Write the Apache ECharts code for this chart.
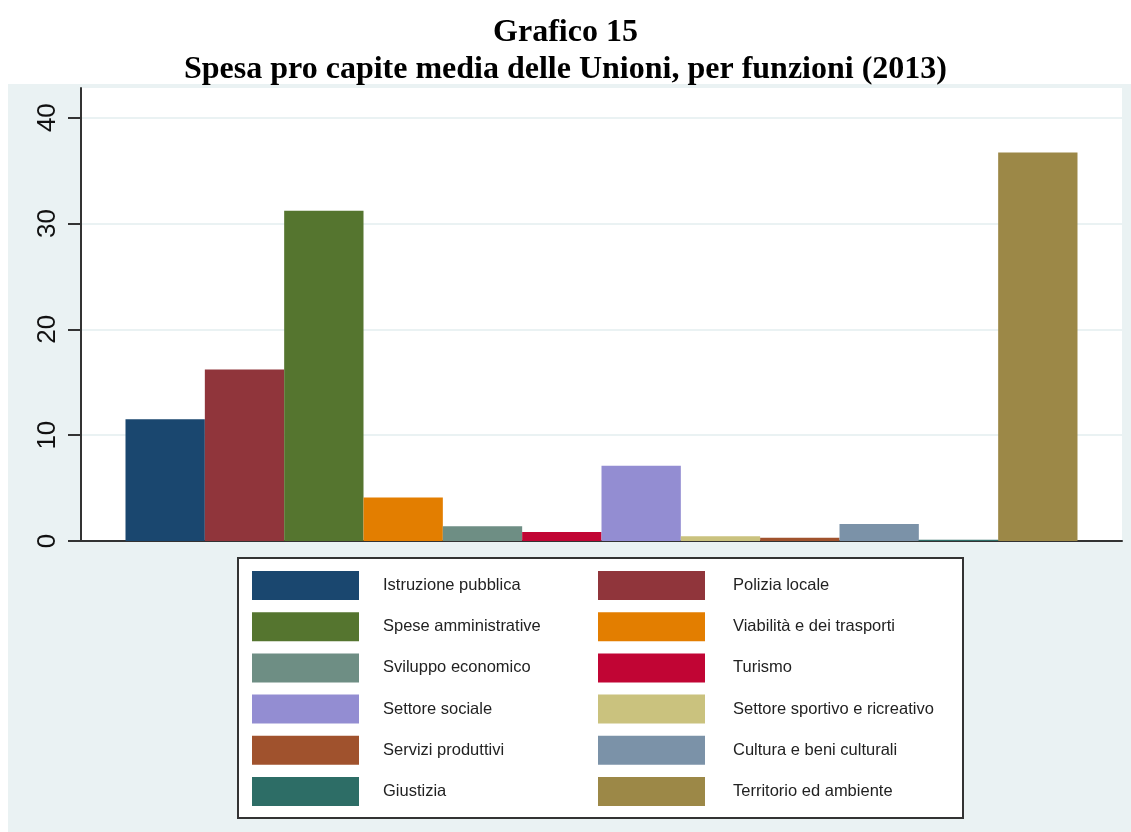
<!DOCTYPE html>
<html>
<head>
<meta charset="utf-8">
<script src="https://cdn.jsdelivr.net/npm/echarts@6/dist/echarts.min.js"></script>
<style>
html, body { margin: 0; padding: 0; background: #fff; }
#grafico15 { width: 1131px; height: 832px; }
</style>
</head>
<body>
<div id="grafico15"></div>
<script>
// funzioni di spesa (una barra ciascuna)
const funzioni = [
	'Istruzione pubblica',
	'Polizia locale',
	'Spese amministrative',
	'Viabilità e dei trasporti',
	'Sviluppo economico',
	'Turismo',
	'Settore sociale',
	'Settore sportivo e ricreativo',
	'Servizi produttivi',
	'Cultura e beni culturali',
	'Giustizia',
	'Territorio ed ambiente',
]
// spesa pro capite media (euro)
const spesa = [11.5, 16.2, 31.2, 4.1, 1.4, 0.85, 7.1, 0.45, 0.3, 1.6, 0.12, 36.7]
const yTicks = [0, 10, 20, 30, 40]

// palette s2color
const colori = [
	'#1a476f', '#90353b', '#55752f', '#e37e00', '#6e8e84', '#c10534',
	'#938dd2', '#cac27e', '#a0522d', '#7b92a8', '#2d6d66', '#9c8847',
]

const sfondo = '#eaf2f3'
const sans = "'Liberation Sans', Arial, sans-serif"

// legenda su due colonne
const legenda = (left, items, gap) => ({
	data: items,
	orient: 'vertical',
	left: left,
	top: 571,
	padding: 0,
	itemWidth: 107,
	itemHeight: 29,
	itemGap: 12.2,
	icon: 'rect',
	selectedMode: false,
	textStyle: {
		fontFamily: sans,
		fontSize: 16.5,
		color: '#222',
		padding: [0, 0, 0, gap],
	},
})

const chart = echarts.init(document.getElementById('grafico15'))

chart.setOption({
	animation: false,
	color: colori,
	title: {
		text: 'Grafico 15\nSpesa pro capite media delle Unioni, per funzioni (2013)',
		left: 'center',
		top: 9,
		textStyle: {
			fontFamily: "'Liberation Serif', 'Times New Roman', serif",
			fontWeight: 'bold',
			fontSize: 32,
			lineHeight: 37,
			color: '#000',
		},
	},
	graphic: [
		{
			type: 'rect',
			z: -10,
			silent: true,
			shape: { x: 8, y: 84, width: 1123, height: 748 },
			style: { fill: sfondo },
		},
		{
			type: 'rect',
			z: -5,
			silent: true,
			shape: { x: 238, y: 558, width: 725, height: 260 },
			style: { fill: '#fff', stroke: '#333', lineWidth: 2 },
		},
	],
	grid: {
		left: 81,
		right: 9,
		top: 88,
		bottom: 291,
		show: true,
		backgroundColor: '#fff',
		borderWidth: 0,
	},
	legend: [
		legenda(252, funzioni.filter((_, i) => i % 2 === 0), 19),
		legenda(598, funzioni.filter((_, i) => i % 2 === 1), 23),
	],
	xAxis: {
		type: 'category',
		data: [''],
		axisLine: { lineStyle: { color: '#333', width: 2 } },
		axisTick: { show: false },
		axisLabel: { show: false },
	},
	yAxis: {
		type: 'value',
		min: 0,
		max: 42.8,
		interval: 10,
		axisLine: { show: true, lineStyle: { color: '#333', width: 2 } },
		axisTick: {
			show: true,
			length: 13,
			customValues: yTicks,
			lineStyle: { color: '#333', width: 2 },
		},
		axisLabel: {
			rotate: 90,
			margin: 20,
			customValues: yTicks,
			fontFamily: sans,
			fontSize: 26,
			color: '#111',
		},
		splitLine: {
			show: true,
			lineStyle: { color: sfondo, width: 2 },
		},
	},
	series: funzioni.map((nome, i) => ({
		name: nome,
		type: 'bar',
		barGap: '0%',
		barCategoryGap: '8.55%',
		data: [spesa[i]],
	})),
})

window.addEventListener('resize', () => {
	chart && chart.resize()
})
</script>
</body>
</html>
